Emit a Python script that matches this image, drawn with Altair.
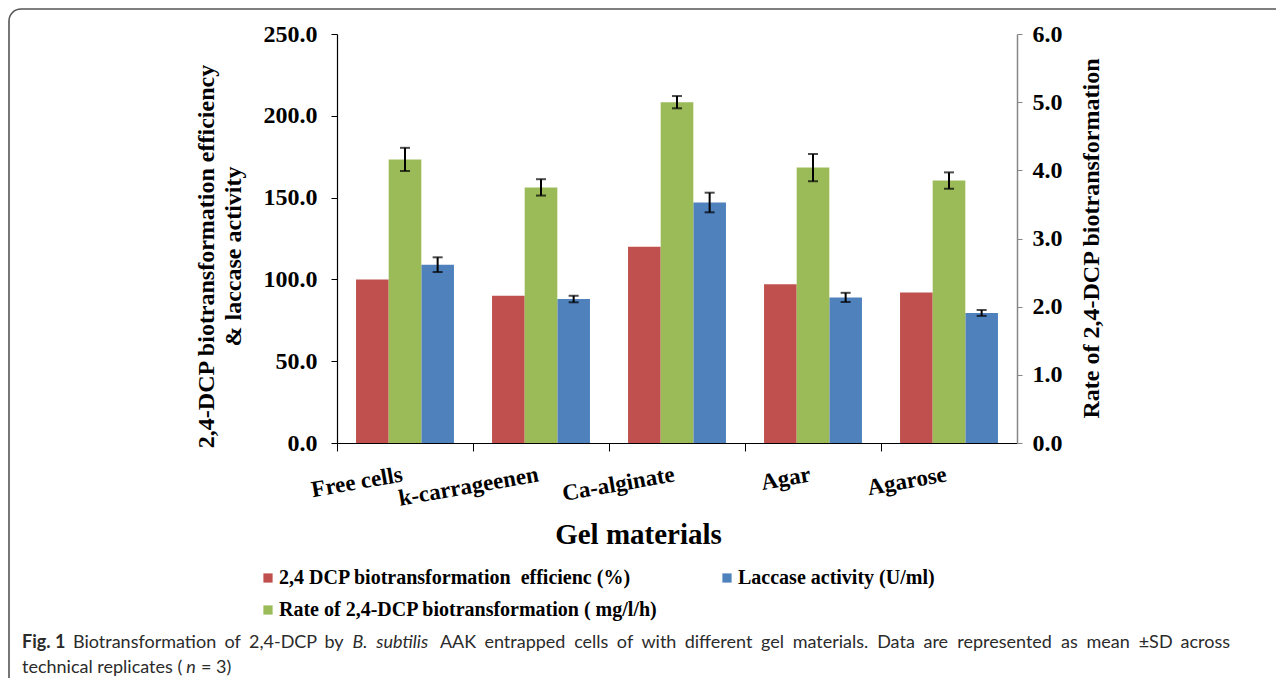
import altair as alt
import pandas as pd

# ---------------- data ----------------
categories = ["Free cells", "k-carrageenen", "Ca-alginate", "Agar", "Agarose"]
efficiency = [100.0, 90.0, 120.0, 97.0, 92.0]
laccase = [109.0, 88.0, 147.0, 89.0, 79.5]
laccase_sd = [4.5, 2.0, 6.0, 2.8, 1.8]
rate = [4.16, 3.75, 5.00, 4.04, 3.85]
rate_sd = [0.17, 0.12, 0.09, 0.20, 0.12]

S_EFF = "2,4 DCP biotransformation \u00a0efficienc (%)"
S_LAC = "Laccase activity (U/ml)"
S_RATE = "Rate of 2,4-DCP biotransformation ( mg/l/h)"

left_ticks = [0, 50, 100, 150, 200, 250]
right_ticks = [0, 1, 2, 3, 4, 5, 6]

legend_order = [S_EFF, S_RATE, S_LAC]
legend_colors = ["#C0504D", "#9BBB59", "#4F81BD"]
bar_order = [S_EFF, S_RATE, S_LAC]

caption_line1 = [("Biotransformation", "normal"), ("of", "normal"), ("2,4-DCP", "normal"),
                 ("by", "normal"), ("B.", "italic"), ("subtilis", "italic"), ("AAK", "normal"),
                 ("entrapped", "normal"), ("cells", "normal"), ("of", "normal"), ("with", "normal"),
                 ("different", "normal"), ("gel", "normal"), ("materials.", "normal"),
                 ("Data", "normal"), ("are", "normal"), ("represented", "normal"), ("as", "normal"),
                 ("mean", "normal"), ("\u00b1SD", "normal"), ("across", "normal")]
caption_line2 = [("technical replicates (", "normal"), ("n", "italic"), ("= 3)", "normal")]

left_rows, right_rows = [], []
for i, c in enumerate(categories):
    left_rows.append(dict(cat=c, series=S_EFF, value=efficiency[i], sd=0.0))
    left_rows.append(dict(cat=c, series=S_LAC, value=laccase[i], sd=laccase_sd[i]))
    right_rows.append(dict(cat=c, series=S_RATE, value=rate[i], sd=rate_sd[i]))
left_df = pd.DataFrame(left_rows)
right_df = pd.DataFrame(right_rows)
for d in (left_df, right_df):
    d["lo"] = d["value"] - d["sd"]
    d["hi"] = d["value"] + d["sd"]
left_err = left_df[left_df["sd"] > 0]

SERIF = "Liberation Serif"
CAP_FONT = "Lato"
CAP_SIZE = 18

# ---------------- encodings ----------------
X = alt.X(
    "cat:N", sort=categories,
    scale=alt.Scale(paddingInner=0.28, paddingOuter=0.14),
    axis=alt.Axis(
        title="Gel materials", titleFont=SERIF, titleFontSize=29, titleFontWeight="bold",
        titleColor="black", titleX=301, titleY=100, titleBaseline="alphabetic",
        titleAlign="center",
        labelFont=SERIF, labelFontSize=23, labelFontWeight="bold", labelColor="black",
        labelAngle=350, labelAlign="right", labelBaseline="top", labelPadding=12,
        bandPosition=0.5, tickOffset=-68, labelOffset=63,
        tickSize=8, tickColor="black", domainColor="black", tickWidth=1, domainWidth=1.2,
        grid=False,
    ),
)
XO = alt.XOffset("series:N", scale=alt.Scale(domain=bar_order, paddingInner=0, paddingOuter=0))

left_axis = alt.Axis(
    values=left_ticks, format=".1f", grid=False,
    labelFont=SERIF, labelFontSize=24, labelFontWeight="bold", labelColor="black",
    labelPadding=14, tickSize=6, tickColor="black", domainColor="black", domainWidth=1.2,
    title=["2,4-DCP biotransformation efficiency", "& laccase activity"],
    titleFont=SERIF, titleFontSize=24, titleFontWeight="bold", titleColor="black",
    titleAngle=270, titleX=-124, titleY=222, titleAlign="center",
    titleBaseline="alphabetic", titleLineHeight=27,
)
right_axis = alt.Axis(
    orient="right", values=right_ticks, format=".1f", grid=False,
    labelFont=SERIF, labelFontSize=24, labelFontWeight="bold", labelColor="black",
    labelPadding=10, tickSize=5, tickColor="#868686", domainColor="#868686", domainWidth=1.5,
    title="Rate of 2,4-DCP biotransformation",
    titleFont=SERIF, titleFontSize=24, titleFontWeight="bold", titleColor="black",
    titleAngle=270, titleX=81, titleY=204, titleAlign="center", titleBaseline="alphabetic",
)
left_scale = alt.Scale(domain=[0, 250], nice=False)
right_scale = alt.Scale(domain=[0, 6], nice=False)

color = alt.Color(
    "series:N",
    scale=alt.Scale(domain=legend_order, range=legend_colors),
    legend=alt.Legend(
        orient="none", legendX=-79, legendY=534, columns=2, columnPadding=59,
        rowPadding=12, title=None, symbolType="square", symbolSize=85,
        symbolStrokeWidth=0, labelFont=SERIF, labelFontSize=20, labelFontWeight="bold",
        labelColor="black", labelLimit=800, labelOffset=1, padding=0,
    ),
)

# ---------------- left (efficiency & laccase) ----------------
bars_left = alt.Chart(left_df).mark_bar().encode(
    x=X, xOffset=XO,
    y=alt.Y("value:Q", scale=left_scale, axis=left_axis),
    color=color,
)
rule_left = alt.Chart(left_err).mark_rule(color="black", strokeWidth=2).encode(
    x=X, xOffset=XO,
    y=alt.Y("lo:Q", scale=left_scale, axis=left_axis), y2="hi:Q",
)
cap_lo_left = alt.Chart(left_err).mark_tick(color="black", thickness=2, size=10, orient="horizontal").encode(
    x=X, xOffset=XO, y=alt.Y("lo:Q", scale=left_scale, axis=left_axis),
)
cap_hi_left = alt.Chart(left_err).mark_tick(color="black", thickness=2, size=10, orient="horizontal").encode(
    x=X, xOffset=XO, y=alt.Y("hi:Q", scale=left_scale, axis=left_axis),
)
left = alt.layer(bars_left, rule_left, cap_lo_left, cap_hi_left)

# ---------------- right (rate) ----------------
bars_right = alt.Chart(right_df).mark_bar().encode(
    x=X, xOffset=XO,
    y=alt.Y("value:Q", scale=right_scale, axis=right_axis),
    color=color,
)
rule_right = alt.Chart(right_df).mark_rule(color="black", strokeWidth=2).encode(
    x=X, xOffset=XO,
    y=alt.Y("lo:Q", scale=right_scale, axis=right_axis), y2="hi:Q",
)
cap_lo_right = alt.Chart(right_df).mark_tick(color="black", thickness=2, size=10, orient="horizontal").encode(
    x=X, xOffset=XO, y=alt.Y("lo:Q", scale=right_scale, axis=right_axis),
)
cap_hi_right = alt.Chart(right_df).mark_tick(color="black", thickness=2, size=10, orient="horizontal").encode(
    x=X, xOffset=XO, y=alt.Y("hi:Q", scale=right_scale, axis=right_axis),
)
right = alt.layer(bars_right, rule_right, cap_lo_right, cap_hi_right)

# ---------------- frame & caption ----------------
one = pd.DataFrame({"k": [0]})
frame = alt.Chart(one).mark_rect(
    fill="white", fillOpacity=0, stroke="#555555", strokeWidth=1.6, cornerRadius=12
).encode(x=alt.value(-328), x2=alt.value(1000), y=alt.value(-25), y2=alt.value(660))

# approximate advance widths (em) of the caption font, used to justify line 1
_W = {'a': .50, 'b': .56, 'c': .46, 'd': .56, 'e': .52, 'f': .32, 'g': .51, 'h': .56, 'i': .24,
      'j': .24, 'k': .50, 'l': .24, 'm': .84, 'n': .56, 'o': .56, 'p': .56, 'q': .56, 'r': .37,
      's': .43, 't': .35, 'u': .56, 'v': .51, 'w': .77, 'x': .49, 'y': .51, 'z': .45,
      'A': .67, 'B': .62, 'C': .66, 'D': .74, 'K': .65, 'S': .52, 'P': .58,
      '.': .22, ',': .22, '-': .35, '\u00b1': .58, '(': .30, ')': .30, '=': .58, ' ': .25}


def text_w(s):
    return sum(_W.get(ch, .58) for ch in s) * CAP_SIZE


ORIGIN_X = 337  # page x of plot's left edge
CAP_COLOR = "#2b2b2b"
L1_Y, L2_Y = 614, 639
segments = [("Fig. 1", 22, L1_Y, "bold", "normal")]
start, end = 73, 1230
total = sum(text_w(w) for w, _ in caption_line1)
gap = (end - start - total) / (len(caption_line1) - 1)
xpos = start
for w, st in caption_line1:
    segments.append((w, xpos, L1_Y, "normal", st))
    xpos += text_w(w) + gap
xpos = 22
for w, st in caption_line2:
    segments.append((w, xpos, L2_Y, "normal", st))
    xpos += text_w(w) + 0.25 * CAP_SIZE

caption_layers = []
for txt, cx, cy, fw, fs in segments:
    caption_layers.append(
        alt.Chart(one).mark_text(
            align="left", baseline="alphabetic", font=CAP_FONT, fontSize=CAP_SIZE,
            fontWeight=fw, fontStyle=fs, color=CAP_COLOR,
        ).encode(x=alt.value(cx - ORIGIN_X), y=alt.value(cy), text=alt.value(txt))
    )

chart = (
    alt.layer(frame, left, right, *caption_layers)
    .resolve_scale(y="independent")
    .properties(
        width=680, height=409,
        padding={"left": 329, "top": 26, "right": 259, "bottom": 235},
        autosize=alt.AutoSizeParams(type="none"),
        background="white",
    )
    .configure_view(strokeWidth=0)
)

chart.save("out.html", embed_options={"renderer": "svg", "actions": False})
